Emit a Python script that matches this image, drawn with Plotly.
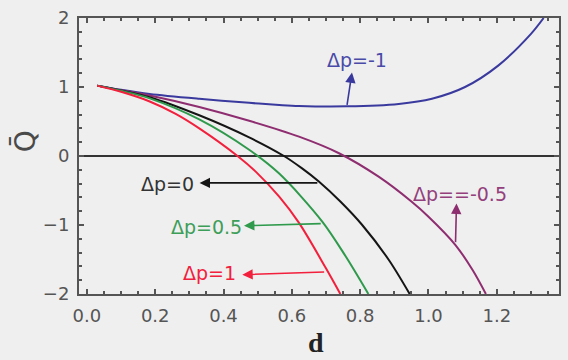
import plotly.graph_objects as go

# Curves (d, Q-bar)
blue_d = [0.03, 0.1, 0.184, 0.329, 0.475, 0.563, 0.621, 0.762, 0.913, 1.01, 1.107, 1.204, 1.30, 1.337]
blue_q = [1.02, 0.96, 0.90, 0.83, 0.77, 0.74, 0.725, 0.72, 0.755, 0.83, 1.0, 1.31, 1.77, 2.0]

purple_d = [0.03, 0.1, 0.184, 0.329, 0.475, 0.621, 0.738, 0.854, 0.95, 1.0, 1.079, 1.13, 1.168]
purple_q = [1.02, 0.955, 0.876, 0.71, 0.51, 0.28, 0.04, -0.30, -0.66, -0.88, -1.29, -1.66, -2.0]

black_d = [0.03, 0.1, 0.184, 0.329, 0.475, 0.577, 0.63, 0.679, 0.742, 0.806, 0.883, 0.945]
black_q = [1.02, 0.95, 0.852, 0.59, 0.27, 0.0, -0.18, -0.37, -0.66, -1.0, -1.5, -2.0]

green_d = [0.03, 0.1, 0.184, 0.329, 0.475, 0.563, 0.689, 0.757, 0.824]
green_q = [1.02, 0.945, 0.835, 0.53, 0.09, -0.255, -0.95, -1.45, -2.0]

red_d = [0.03, 0.1, 0.184, 0.26, 0.329, 0.441, 0.495, 0.563, 0.621, 0.699, 0.742]
red_q = [1.02, 0.93, 0.79, 0.61, 0.40, 0.0, -0.23, -0.59, -0.97, -1.62, -2.0]

labels = ["Δp=-1", "Δp==-0.5", "Δp=0", "Δp=0.5", "Δp=1"]
colors = ["#3a3a9e", "#8e2d70", "#151515", "#2f9a4c", "#f2203c"]
text_colors = ["#4a4aa8", "#93407c", "#333333", "#3d9e58", "#f2203c"]

label_pos = [(0.79, 1.386), (1.093, -0.55), (0.235, -0.40), (0.351, -1.025), (0.359, -1.70)]
arrow_head = [(0.776, 1.21), (1.082, -0.69), (0.33, -0.39), (0.46, -1.01), (0.455, -1.72)]
arrow_tail = [(0.761, 0.72), (1.079, -1.27), (0.679, -0.39), (0.689, -0.98), (0.699, -1.68)]

series = [(blue_d, blue_q), (purple_d, purple_q), (black_d, black_q),
          (green_d, green_q), (red_d, red_q)]

fig = go.Figure()
for (xs, ys), c in zip(series, colors):
    fig.add_trace(go.Scatter(x=xs, y=ys, mode="lines",
                             line=dict(color=c, width=2, shape="spline", smoothing=0.9),
                             showlegend=False, hoverinfo="skip"))

annotations = []
for lab, (tx, ty), tc in zip(labels, label_pos, text_colors):
    annotations.append(dict(x=tx, y=ty, xref="x", yref="y", text=lab, showarrow=False,
                            font=dict(family="DejaVu Sans", size=19, color=tc)))
for (hx, hy), (tx, ty), c in zip(arrow_head, arrow_tail, colors):
    annotations.append(dict(x=hx, y=hy, ax=tx, ay=ty, xref="x", yref="y",
                            axref="x", ayref="y", text="", showarrow=True,
                            arrowhead=2, arrowsize=1.3, arrowwidth=1.6,
                            arrowcolor=c, standoff=0, startstandoff=0))

annotations.append(dict(x=0.494, y=-0.175, xref="paper", yref="paper", text="<b>d</b>",
                        showarrow=False, xanchor="center", yanchor="middle",
                        font=dict(family="Liberation Serif", size=28, color="#222222")))
annotations.append(dict(x=-0.112, y=0.554, xref="paper", yref="paper", text="Q\u0304",
                        showarrow=False, textangle=-90, xanchor="center", yanchor="middle",
                        font=dict(family="DejaVu Sans", size=28, color="#4a4a4a")))

axis_common = dict(showline=True, linecolor="#555555", linewidth=2, mirror="ticks",
                   ticks="inside", ticklen=5, tickwidth=1.5, tickcolor="#555555",
                   showgrid=False, ticklabelstandoff=4,
                   tickfont=dict(family="DejaVu Sans", size=18, color="#555555"))

fig.update_layout(
    width=568, height=360,
    margin=dict(l=79, r=7, t=16, b=66),
    paper_bgcolor="#efefef", plot_bgcolor="#efefef",
    annotations=annotations,
    xaxis=dict(range=[-0.023, 1.382], tickvals=[0, 0.2, 0.4, 0.6, 0.8, 1.0, 1.2],
               ticktext=["0.0", "0.2", "0.4", "0.6", "0.8", "1.0", "1.2"],
               zeroline=False,
               minor=dict(ticks="inside", ticklen=3, tickcolor="#555555", dtick=0.05, tick0=0),
               **axis_common),
    yaxis=dict(range=[-2, 2], tickvals=[-2, -1, 0, 1, 2], zeroline=True,
               zerolinecolor="#333333", zerolinewidth=1.5,
               minor=dict(ticks="inside", ticklen=3, tickcolor="#555555", dtick=0.2, tick0=0),
               **axis_common),
)

fig.write_html("out.html")
